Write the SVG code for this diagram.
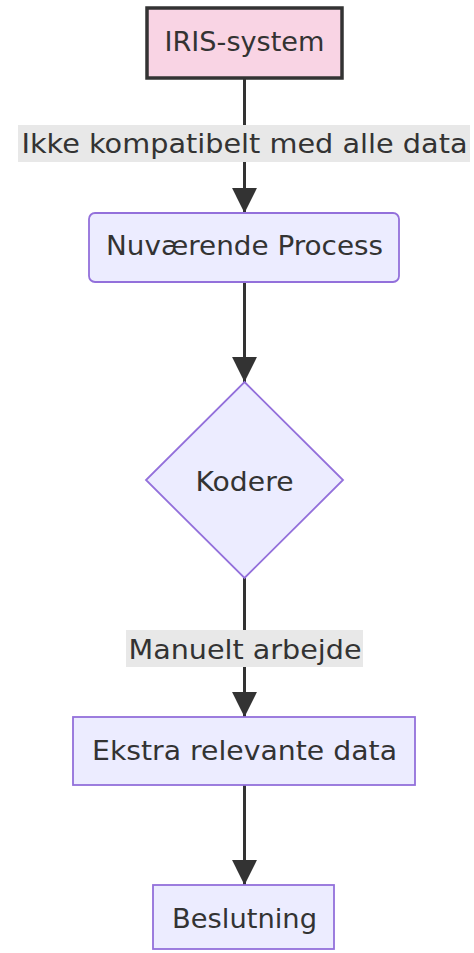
<svg xmlns="http://www.w3.org/2000/svg" width="474" height="953" viewBox="0 0 474 953">
  <defs>
    <style>
      .node { fill: #ececff; stroke: #9370db; stroke-width: 1.8; }
      .start { fill: #f9d4e4; stroke: #333333; stroke-width: 3.5; }
      .label { font-family: "DejaVu Sans", "Verdana", sans-serif; font-size: 27px; fill: #333333; text-anchor: middle; }
      .edge { stroke: #333333; stroke-width: 3; fill: none; }
      .edge-bg { fill: #e8e8e8; }
    </style>
    <marker id="arrow" viewBox="0 0 10 10" refX="10" refY="5" markerWidth="8.3" markerHeight="8.3" orient="auto" markerUnits="strokeWidth">
      <path d="M0,0 L10,5 L0,10 z" fill="#333333"/>
    </marker>
  </defs>

  <!-- connectors -->
  <g id="edges">
    <path class="edge" d="M244.5,78 L244.5,213" marker-end="url(#arrow)"/>
    <path class="edge" d="M244.5,282 L244.5,382" marker-end="url(#arrow)"/>
    <path class="edge" d="M244.5,578 L244.5,717" marker-end="url(#arrow)"/>
    <path class="edge" d="M244.5,785 L244.5,885" marker-end="url(#arrow)"/>
    <g id="edge-label-1">
      <rect class="edge-bg" x="18" y="125" width="452" height="37"/>
      <text class="label" x="244.5" y="153" textLength="446" lengthAdjust="spacingAndGlyphs">Ikke kompatibelt med alle data</text>
    </g>
    <g id="edge-label-2">
      <rect class="edge-bg" x="126" y="630" width="237" height="37"/>
      <text class="label" x="245" y="659" textLength="233" lengthAdjust="spacingAndGlyphs">Manuelt arbejde</text>
    </g>
  </g>

  <g id="iris">
    <rect class="start" x="147" y="8" width="195" height="70"/>
    <text class="label" x="244.5" y="51" textLength="160" lengthAdjust="spacingAndGlyphs">IRIS-system</text>
  </g>

  <g id="process">
    <rect class="node" x="89" y="213" width="310" height="69" rx="6" ry="6"/>
    <text class="label" x="244.5" y="255" textLength="277" lengthAdjust="spacingAndGlyphs">Nuværende Process</text>
  </g>

  <g id="kodere">
    <polygon class="node" points="244.5,382 343,480 244.5,578 146,480"/>
    <text class="label" x="244.5" y="491" textLength="98" lengthAdjust="spacingAndGlyphs">Kodere</text>
  </g>

  <g id="ekstra">
    <rect class="node" x="73" y="717" width="342" height="68"/>
    <text class="label" x="244.5" y="760" textLength="305" lengthAdjust="spacingAndGlyphs">Ekstra relevante data</text>
  </g>

  <g id="beslutning">
    <rect class="node" x="153" y="885" width="181" height="64"/>
    <text class="label" x="244.5" y="928" textLength="145" lengthAdjust="spacingAndGlyphs">Beslutning</text>
  </g>
</svg>
